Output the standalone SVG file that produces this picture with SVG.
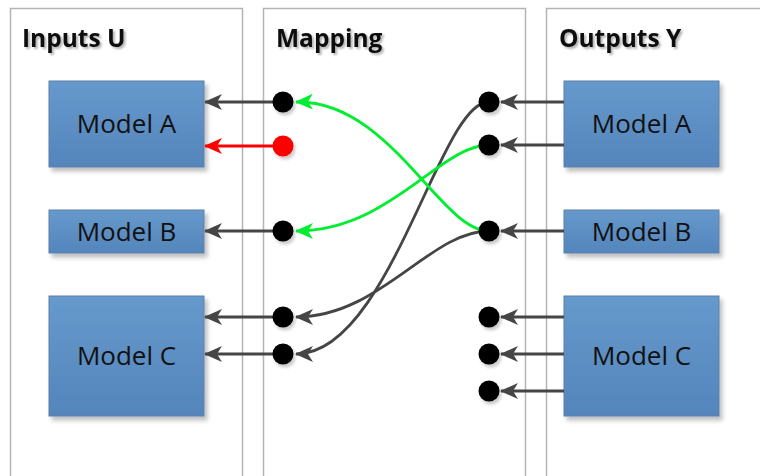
<svg xmlns="http://www.w3.org/2000/svg" width="760" height="476" viewBox="0 0 760 476">
<defs>
<linearGradient id="mg" x1="0" y1="0" x2="0" y2="1">
<stop offset="0" stop-color="#6699cc"/>
<stop offset="1" stop-color="#5485bb"/>
</linearGradient>
<filter id="sh" x="-10%" y="-10%" width="130%" height="140%">
<feDropShadow dx="3" dy="4" stdDeviation="2" flood-color="#000" flood-opacity="0.25"/>
</filter>
<filter id="tsh" x="-10%" y="-20%" width="130%" height="160%">
<feDropShadow dx="2" dy="2" stdDeviation="1.2" flood-color="#000" flood-opacity="0.3"/>
</filter>
<filter id="dsh" x="-40%" y="-40%" width="200%" height="200%">
<feDropShadow dx="2" dy="3" stdDeviation="1.5" flood-color="#000" flood-opacity="0.2"/>
</filter>
<marker id="ag" viewBox="0 0 18 16" refX="17" refY="8" markerWidth="18" markerHeight="16" markerUnits="userSpaceOnUse" orient="auto">
<path d="M18,8 L0,0 L5,8 L0,16 Z" fill="#454545"/>
</marker>
<marker id="ar" viewBox="0 0 18 16" refX="17" refY="8" markerWidth="18" markerHeight="16" markerUnits="userSpaceOnUse" orient="auto">
<path d="M18,8 L0,0 L5,8 L0,16 Z" fill="#ff0000"/>
</marker>
<marker id="agr" viewBox="0 0 18 16" refX="17" refY="8" markerWidth="18" markerHeight="16" markerUnits="userSpaceOnUse" orient="auto">
<path d="M18,8 L0,0 L5,8 L0,16 Z" fill="#00ee30"/>
</marker>
</defs>
<style>
.panel{fill:#ffffff;stroke:#b4b4b4;stroke-width:1.5}
.title{font-family:"Open Sans","Liberation Sans",sans-serif;font-weight:bold;font-size:24.5px;fill:#111}
.box{fill:url(#mg);stroke:#5a80ab;stroke-width:1}
.lbl{font-family:"Open Sans","Liberation Sans",sans-serif;font-size:26px;fill:#111;text-anchor:middle}
.dot{fill:#000}
.red{fill:#ff0000}
.g{fill:none;stroke:#454545;stroke-width:2.8;marker-end:url(#ag)}
.r{fill:none;stroke:#ff0000;stroke-width:2.8;marker-end:url(#ar)}
.gr{fill:none;stroke:#00ee30;stroke-width:2.8;marker-end:url(#agr)}
</style>
<rect width="760" height="476" fill="#ffffff"/>
<g id="panels">
<rect class="panel" x="10.5" y="8.5" width="232" height="480"/>
<rect class="panel" x="263.5" y="8.5" width="262" height="480"/>
<rect class="panel" x="546.5" y="8.5" width="230" height="480"/>
<text class="title" x="22" y="47" filter="url(#tsh)">Inputs U</text>
<text class="title" x="276" y="47" filter="url(#tsh)">Mapping</text>
<text class="title" x="559" y="47" filter="url(#tsh)">Outputs Y</text>
</g>
<g id="in-model-a"><rect class="box" x="49" y="81" width="155" height="86" filter="url(#sh)"/><text class="lbl" x="126.5" y="133">Model A</text></g>
<g id="in-model-b"><rect class="box" x="49" y="210" width="155" height="43" filter="url(#sh)"/><text class="lbl" x="126.5" y="241">Model B</text></g>
<g id="in-model-c"><rect class="box" x="49" y="296" width="155" height="120" filter="url(#sh)"/><text class="lbl" x="126.5" y="365">Model C</text></g>
<g id="out-model-a"><rect class="box" x="564" y="81" width="155" height="86" filter="url(#sh)"/><text class="lbl" x="641.5" y="133">Model A</text></g>
<g id="out-model-b"><rect class="box" x="564" y="210" width="155" height="43" filter="url(#sh)"/><text class="lbl" x="641.5" y="241">Model B</text></g>
<g id="out-model-c"><rect class="box" x="564" y="296" width="155" height="120" filter="url(#sh)"/><text class="lbl" x="641.5" y="365">Model C</text></g>
<g id="connectors">
<path class="g" d="M283,102 H205"/>
<path class="r" d="M283,146 H205"/>
<path class="g" d="M283,231 H205"/>
<path class="g" d="M283,317 H205"/>
<path class="g" d="M283,354 H205"/>
<path class="g" d="M564,102 H501"/>
<path class="g" d="M564,145 H501"/>
<path class="g" d="M564,231 H501"/>
<path class="g" d="M564,317 H501"/>
<path class="g" d="M564,354 H501"/>
<path class="g" d="M564,391 H501"/>
<path class="g" d="M489,102 C440,100 390,354 296,354"/>
<path class="g" d="M489,231 C430,231 380,317 296,317"/>
<path class="gr" d="M489,231 C440,231 390,100 296,102"/>
<path class="gr" d="M489,145 C440,145 390,231 296,231"/>
</g>
<g id="dots" filter="url(#dsh)">
<circle class="dot" cx="283" cy="102" r="10.5"/>
<circle class="red" cx="283" cy="146" r="10.5"/>
<circle class="dot" cx="283" cy="231" r="10.5"/>
<circle class="dot" cx="283" cy="317" r="10.5"/>
<circle class="dot" cx="283" cy="354" r="10.5"/>
<circle class="dot" cx="489" cy="102" r="10.5"/>
<circle class="dot" cx="489" cy="145" r="10.5"/>
<circle class="dot" cx="489" cy="231" r="10.5"/>
<circle class="dot" cx="489" cy="317" r="10.5"/>
<circle class="dot" cx="489" cy="354" r="10.5"/>
<circle class="dot" cx="489" cy="391" r="10.5"/>
</g>
</svg>
